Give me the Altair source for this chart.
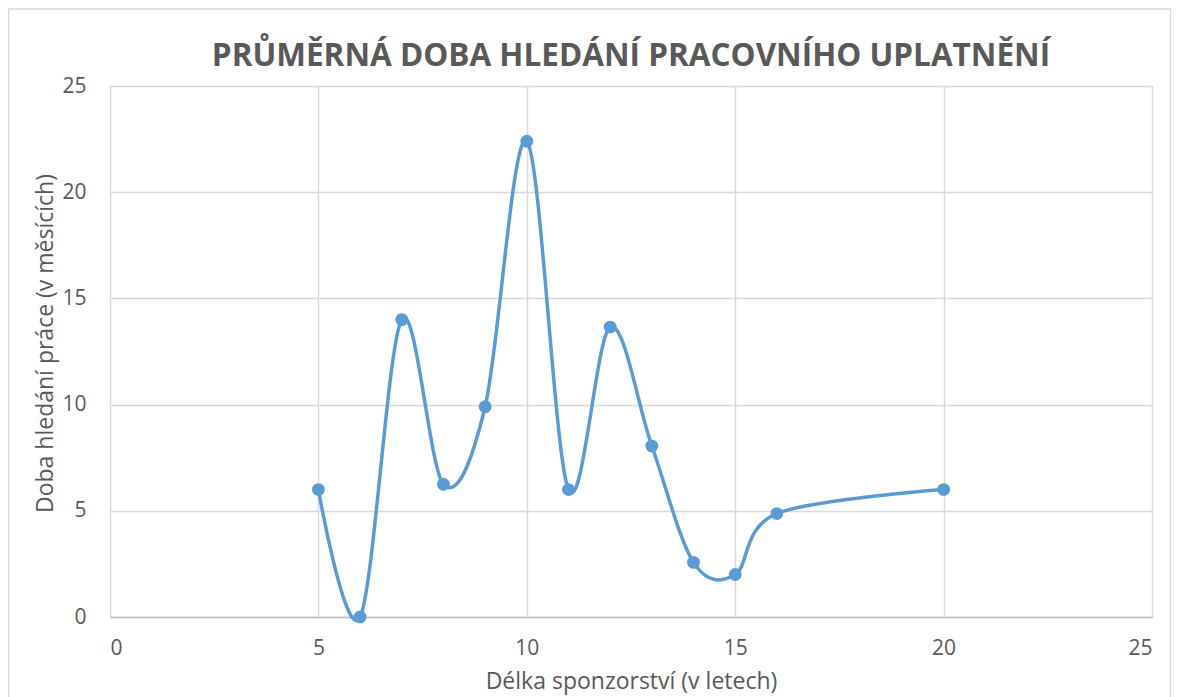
import altair as alt
import pandas as pd

# Data
sponsorship_years = [5, 6, 7, 8, 9, 10, 11, 12, 13, 14, 15, 16, 20]
search_months = [6.0, 0.0, 14.0, 6.25, 9.9, 22.4, 6.0, 13.65, 8.05, 2.57, 2.0, 4.87, 6.0]

df = pd.DataFrame({"x": sponsorship_years, "y": search_months, "order": list(range(len(sponsorship_years)))})

FONT = "Open Sans"
TXT = "#595959"
BLUE = "#5B9BD5"

W, H = 1042, 531
PL, PT, PR, PB = 102, 78, 19, 80

xs = alt.Scale(domain=[0, 25], nice=False, zero=False)
ys = alt.Scale(domain=[0, 25], nice=False, zero=False)

xax = alt.Axis(values=[0, 5, 10, 15, 20, 25], title="Délka sponzorství (v letech)",
               grid=True, gridColor="#d9d9d9", gridWidth=1.4, domain=True, domainColor="#bfbfbf",
               domainWidth=1.4, ticks=False, tickSize=0, labelPadding=20, labelFont=FONT,
               labelFontSize=21, labelColor=TXT, titleFont=FONT, titleFontSize=23,
               titleFontWeight="normal", titleColor=TXT, titlePadding=12)
yax = alt.Axis(values=[0, 5, 10, 15, 20, 25], title="Doba hledání práce (v měsících)",
               grid=True, gridColor="#d9d9d9", gridWidth=1.4, domain=False, ticks=False,
               tickSize=0, labelPadding=24, labelFont=FONT, labelFontSize=21, labelColor=TXT,
               titleFont=FONT, titleFontSize=23, titleFontWeight="normal", titleColor=TXT,
               titlePadding=4, titleY=257)

base = alt.Chart(df)

line = base.mark_line(interpolate="cardinal", color=BLUE, strokeWidth=3.5, clip=False).encode(
    x=alt.X("x:Q", scale=xs, axis=xax),
    y=alt.Y("y:Q", scale=ys, axis=yax),
    order="order:Q",
)

points = base.mark_circle(color=BLUE, size=165, opacity=1).encode(
    x=alt.X("x:Q", scale=xs),
    y=alt.Y("y:Q", scale=ys),
)

frame = alt.Chart(pd.DataFrame({"a": [0]})).mark_rect(
    fill=None, stroke="#d9d9d9", strokeWidth=1.5, clip=False
).encode(
    x=alt.value(-PL + 0.5),
    x2=alt.value(W + PR - 0.5),
    y=alt.value(-PT + 1),
    y2=alt.value(H + PB + 20),
)

chart = alt.layer(frame, line, points).properties(
    width=W,
    height=H,
    padding={"left": PL, "top": PT, "right": PR, "bottom": PB},
    autosize=alt.AutoSizeParams(type="none"),
    title=alt.TitleParams(
        "PRŮMĚRNÁ DOBA HLEDÁNÍ PRACOVNÍHO UPLATNĚNÍ",
        font=FONT, fontSize=31.5, fontWeight="bold", color=TXT, anchor="middle",
        offset=17, dy=81, frame="group",
    ),
).configure_view(stroke=None).configure(background="white")

chart.save("out.html", embed_options={"renderer": "svg", "actions": False})
